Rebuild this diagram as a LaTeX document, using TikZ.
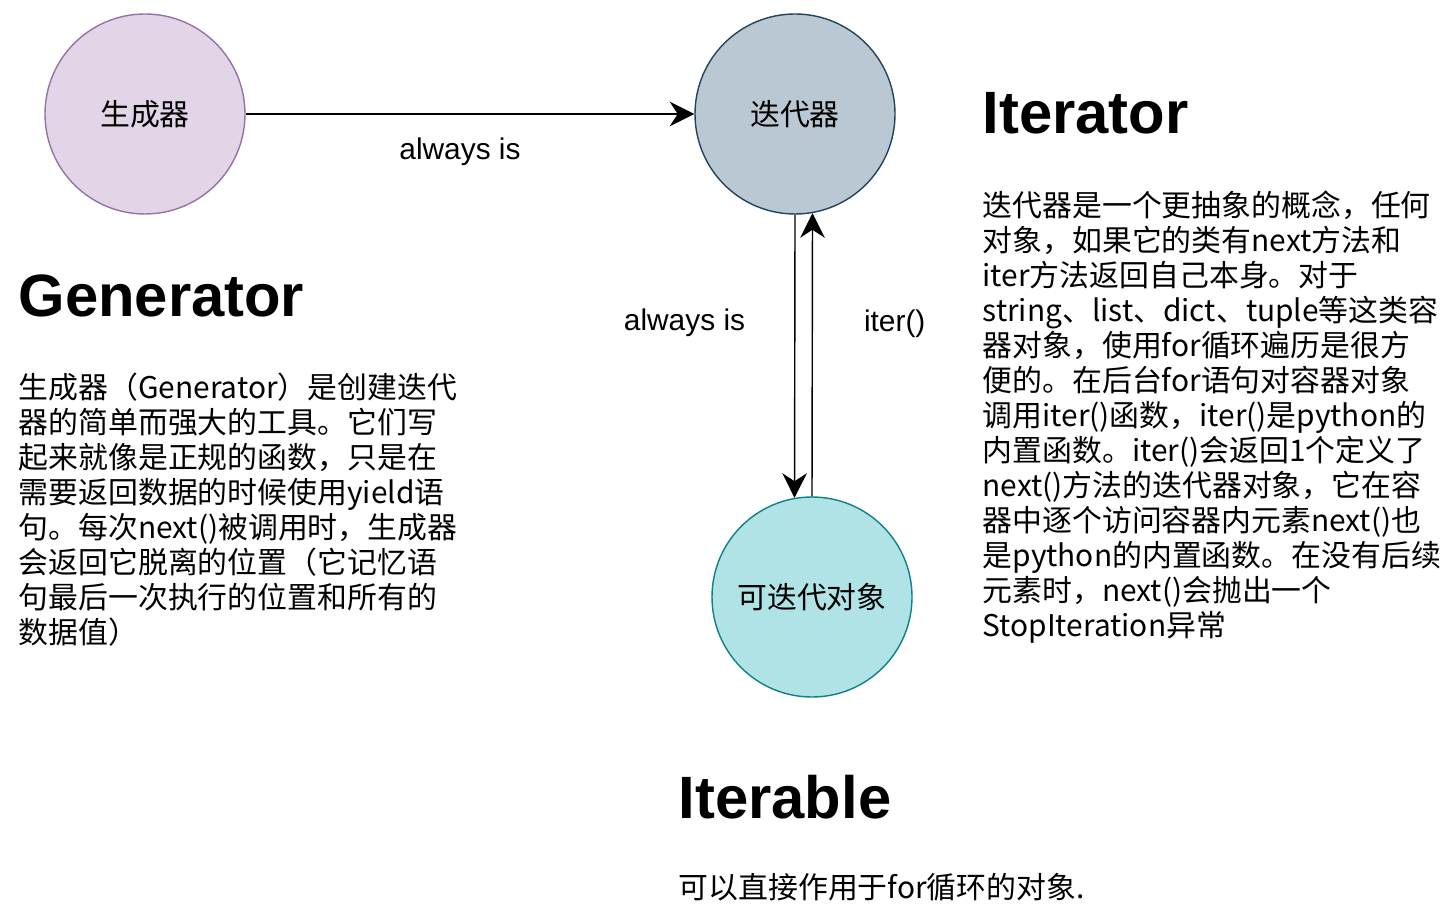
\documentclass[tikz,border=0pt]{standalone}
\usepackage{fontspec}
\setmainfont{Liberation Sans}
\newfontfamily\cjk{Noto Sans CJK SC}
\usetikzlibrary{arrows.meta,positioning}
\definecolor{genfill}{HTML}{E1D5E7}
\definecolor{gendraw}{HTML}{9673A6}
\definecolor{iterfill}{HTML}{BAC8D3}
\definecolor{iterdraw}{HTML}{23445D}
\definecolor{ablefill}{HTML}{B0E3E6}
\definecolor{abledraw}{HTML}{0E8088}
\begin{document}
\begin{tikzpicture}[>={Stealth[length=7pt,width=7pt]},
	bubble/.style={circle,draw,minimum size=2cm,inner sep=0pt,font=\cjk\fontsize{8.5}{10}\selectfont},
	lbl/.style={inner sep=0pt,font=\fontsize{8.5}{10}\selectfont},
	heading/.style={anchor=west,inner sep=0pt,font=\bfseries\fontsize{17}{20}\selectfont},
	body/.style={anchor=north west,inner sep=0pt,align=left,font=\cjk\fontsize{8.5}{9.96}\selectfont}]
		\useasboundingbox (0,0) rectangle (14.47,9.09);
		%circles
		\node[bubble,fill=genfill,draw=gendraw] (gen) at (1.45,7.95) {生成器};
		\node[bubble,fill=iterfill,draw=iterdraw] (iter) at (7.95,7.95) {迭代器};
		\node[bubble,fill=ablefill,draw=abledraw] (able) at (8.12,3.12) {可迭代对象};
		%arrows
		\draw[->] (gen) -- node[lbl,below=2.3mm,xshift=-1mm] (isgen) {always is} (iter);
		\draw[->] (iter.south) -- node[lbl,pos=0.38,left=4.9mm] (isable) {always is} (able.100);
		\draw[->] (able.north) -- node[lbl,pos=0.61,right=5.1mm] (callit) {iter()} (iter.280);
		%headings
		\node[heading] (genhead) at (0.18,6.13) {Generator};
		\node[heading] (iterhead) at (9.82,7.96) {Iterator};
		\node[heading] (ablehead) at (6.78,1.12) {Iterable};
		%texts
		\node[body] (gentext) at (0.18,5.37) {生成器（Generator）是创建迭代\\器的简单而强大的工具。它们写\\起来就像是正规的函数，只是在\\需要返回数据的时候使用yield语\\句。每次next()被调用时，生成器\\会返回它脱离的位置（它记忆语\\句最后一次执行的位置和所有的\\数据值）};
		\node[body] (itertext) at (9.82,7.19) {迭代器是一个更抽象的概念，任何\\对象，如果它的类有next方法和\\iter方法返回自己本身。对于\\string、list、dict、tuple等这类容\\器对象，使用for循环遍历是很方\\便的。在后台for语句对容器对象\\调用iter()函数，iter()是python的\\内置函数。iter()会返回1个定义了\\next()方法的迭代器对象，它在容\\器中逐个访问容器内元素next()也\\是python的内置函数。在没有后续\\元素时，next()会抛出一个\\StopIteration异常};
		\node[body,anchor=west] (abletext) at (6.78,0.22) {可以直接作用于for循环的对象.};
	\end{tikzpicture}
\end{document}
